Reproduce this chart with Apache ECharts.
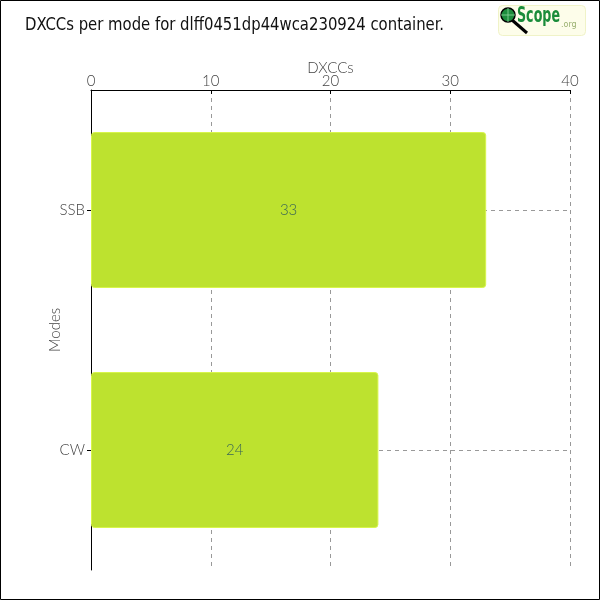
<!DOCTYPE html>
<html><head><meta charset="utf-8">
<script src="https://cdn.jsdelivr.net/npm/echarts@6/dist/echarts.min.js"></script>
<style>html,body{margin:0;padding:0;background:#fff}#c{width:600px;height:600px}</style>
</head><body><div id="c"></div>
<script>
const categories = ['CW', 'SSB'];
const dxccValues = [24, 33];
const xTicks = [0, 10, 20, 30, 40];
const titleText = 'DXCCs per mode for dlff0451dp44wca230924 container.';

const chart = echarts.init(document.getElementById('c'), null, {renderer: 'canvas'});
const thin = 'Lato';
const narrow = '"DejaVu Sans Condensed"';
const dash = {color: '#999', type: [4, 4], width: 1};
chart.setOption({
  animation: false,
  backgroundColor: '#fff',
  grid: {left: 91, right: 30, top: 90, bottom: 30, containLabel: false},
  xAxis: {
    type: 'value', position: 'top', min: xTicks[0], max: xTicks[xTicks.length - 1], interval: 10,
    name: 'DXCCs', nameLocation: 'middle', nameGap: 14, nameMoveOverlap: false,
    nameTextStyle: {fontFamily: thin, fontWeight: 300, fontSize: 15, color: '#444'},
    axisLine: {show: true, lineStyle: {color: '#000', width: 1}},
    axisTick: {show: true, inside: true, length: 4, lineStyle: {color: '#000'}},
    axisLabel: {fontFamily: thin, fontWeight: 300, fontSize: 15, color: '#444', margin: 1},
    splitLine: {show: true, lineStyle: dash}
  },
  yAxis: {
    type: 'category', data: categories,
    name: 'Modes', nameLocation: 'middle', nameGap: 28, nameMoveOverlap: false,
    nameTextStyle: {fontFamily: thin, fontWeight: 300, fontSize: 15, color: '#444'},
    axisLine: {show: true, lineStyle: {color: '#000', width: 1}},
    axisTick: {show: true, alignWithLabel: true, length: 4, lineStyle: {color: '#000'}},
    axisLabel: {fontFamily: thin, fontWeight: 300, fontSize: 15, color: '#444', margin: 6},
    splitLine: {show: false}
  },
  series: [
    {
      type: 'line', data: [], z: 1, silent: true,
      markLine: {
        silent: true, symbol: 'none', label: {show: false},
        lineStyle: dash, z: 1,
        data: categories.map(c => ({yAxis: c}))
      }
    },
    {
      type: 'bar', data: dxccValues, barWidth: '65%',
      itemStyle: {color: '#bde22f', borderColor: '#d8f54a', borderWidth: 1, borderRadius: 3},
      label: {show: true, position: 'inside', fontFamily: thin, fontWeight: 300, fontSize: 15, color: '#3a6656'},
      z: 3
    }
  ],
  graphic: [
    {type: 'rect', shape: {x: 0.5, y: 0.5, width: 599, height: 599}, style: {fill: 'none', stroke: '#000', lineWidth: 1}, z: 100},
    {type: 'text', x: 25, y: 16, scaleX: 0.918, originX: 0,
     style: {text: titleText, fill: '#111', font: '18px ' + narrow, textVerticalAlign: 'top'}},
    {type: 'group', x: 498, y: 5, children: [
      {type: 'rect', shape: {x: 0.5, y: 0.5, width: 87, height: 30, r: 4}, style: {fill: '#fdfdea', stroke: '#f0f3c8', lineWidth: 1}},
      {type: 'line', shape: {x1: 14, y1: 15, x2: 29, y2: 28}, style: {stroke: '#000', lineWidth: 3}},
      {type: 'circle', shape: {cx: 10, cy: 10, r: 7}, style: {fill: '#1c8c3c', stroke: '#000', lineWidth: 1.5}},
      {type: 'line', shape: {x1: 10, y1: 3, x2: 10, y2: 17}, style: {stroke: '#8fd8a0', lineWidth: 0.8}},
      {type: 'line', shape: {x1: 3, y1: 10, x2: 17, y2: 10}, style: {stroke: '#8fd8a0', lineWidth: 0.8}},
      {type: 'text', x: 19, y: 0, scaleX: 0.64, originX: 0,
       style: {text: 'Scope', fill: '#1a8c3a', font: 'bold 22px ' + narrow, textVerticalAlign: 'top'}},
      {type: 'text', x: 63, y: 16,
       style: {text: '.org', fill: '#9ab070', font: '8px "DejaVu Sans"', textVerticalAlign: 'top'}}
    ]}
  ]
});
</script></body></html>
